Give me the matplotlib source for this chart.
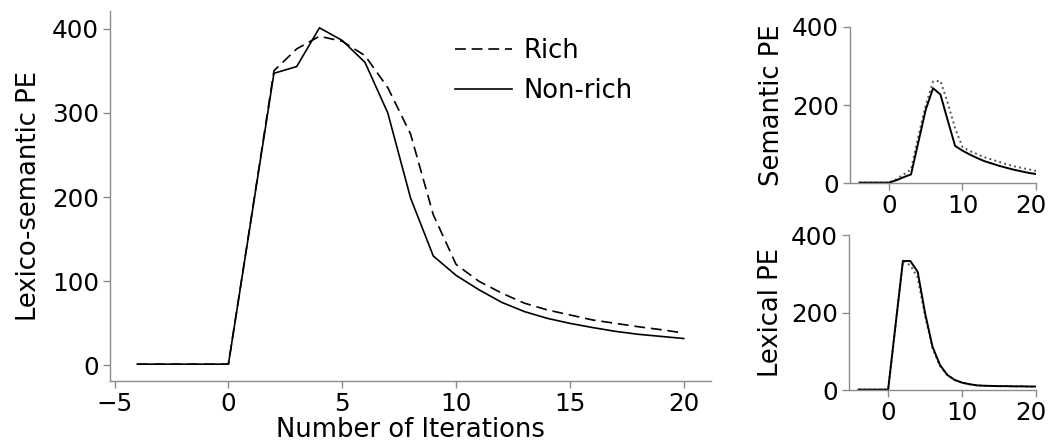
import matplotlib
matplotlib.use('Agg')
import matplotlib.pyplot as plt
import matplotlib.transforms as mtransforms

# iterations
iters = list(range(-4, 21))

# main panel: lexico-semantic PE
rich = [1.5, 1.5, 1.5, 1.5, 1.5, 175, 350, 376, 391, 385, 368, 330, 275, 179, 120,
        100, 86, 74, 66, 60, 54, 50, 46, 42.5, 38.5]
non_rich = [1.5, 1.5, 1.5, 1.5, 1.5, 174, 347, 355, 401, 386, 360, 300, 199, 130, 107,
            90, 75, 64, 56, 50, 45, 40.5, 37, 34.5, 32]

# small panels
sem_rich = [1, 1, 1, 1, 1, 10, 22, 35, 120, 200, 260, 262, 205, 140, 92,
            82, 74, 66, 60, 54, 48, 43, 39, 35, 31]
sem_non = [1, 1, 1, 1, 1, 7, 15, 22, 105, 188, 243, 227, 160, 95, 83,
           73, 64, 56, 50, 44, 39, 34, 30, 26, 23]
lex_rich = [1, 1, 1, 1, 1, 167, 333, 322, 290, 190, 108, 62, 39, 26, 19,
            15, 12, 11, 10.5, 10, 10, 9.5, 9.5, 9, 9]
lex_non = [1, 1, 1, 1, 1, 167, 333, 333, 305, 198, 112, 65, 39, 26, 19,
           15, 12, 11, 10.5, 10, 10, 9.5, 9.5, 9, 9]

FS = 17.7   # tick labels
LS = 18.6   # axis labels / legend
SPINE = '#8c8c8c'

plt.rcParams['font.family'] = 'DejaVu Sans'
plt.rcParams['font.size'] = FS

fig = plt.figure(figsize=(10.49, 4.44), dpi=100)


def style(ax):
    for s in ['top', 'right']:
        ax.spines[s].set_visible(False)
    for s in ['left', 'bottom']:
        ax.spines[s].set_color(SPINE)
        ax.spines[s].set_linewidth(1.0)
    ax.tick_params(colors=SPINE, labelcolor='black', labelsize=FS,
                   length=5, width=1.0, direction='out', pad=3)


def nudge_last_xlabel(ax):
    # keep the "20" inside the figure like the reference
    fig.canvas.draw()
    lab = ax.get_xticklabels()[-1]
    off = mtransforms.ScaledTranslation(-5 / 100, 0, fig.dpi_scale_trans)
    lab.set_transform(lab.get_transform() + off)


# main plot
ax = fig.add_axes([0.1049, 0.1419, 0.5729, 0.8333])
style(ax)
ax.plot(iters, rich, color='black', lw=1.2, dashes=(6.5, 3.5), label='Rich')
ax.plot(iters, non_rich, color='black', lw=1.2, label='Non-rich')
ax.set_xticks([-5, 0, 5, 10, 15, 20])
ax.set_yticks([0, 100, 200, 300, 400])
ax.set_xlabel('Number of Iterations', fontsize=LS, labelpad=1)
ax.set_ylabel('Lexico-semantic PE', fontsize=LS, labelpad=7)
ax.legend(loc='upper left', bbox_to_anchor=(0.536, 0.99), frameon=False,
          fontsize=LS, handlelength=2.2, labelspacing=0.55, handletextpad=0.45)

# semantic
ax1 = fig.add_axes([0.8103, 0.5878, 0.1773, 0.3514])
style(ax1)
ax1.plot(iters, sem_rich, color='#555555', lw=1.4, ls=':')
ax1.plot(iters, sem_non, color='black', lw=1.4)
ax1.set_xlim(-5.3, 20)
ax1.set_ylim(0, 400)
ax1.set_xticks([0, 10, 20])
ax1.set_yticks([0, 200, 400])
ax1.set_ylabel('Semantic PE', fontsize=LS, labelpad=5)

# lexical
ax2 = fig.add_axes([0.8093, 0.1216, 0.1783, 0.3491])
style(ax2)
ax2.plot(iters, lex_rich, color='#555555', lw=1.4, ls=':')
ax2.plot(iters, lex_non, color='black', lw=1.4)
ax2.set_xlim(-5.3, 20)
ax2.set_ylim(0, 400)
ax2.set_xticks([0, 10, 20])
ax2.set_yticks([0, 200, 400])
ax2.set_ylabel('Lexical PE', fontsize=LS, labelpad=5)

nudge_last_xlabel(ax1)
nudge_last_xlabel(ax2)

fig.savefig('out.png', dpi=100)
